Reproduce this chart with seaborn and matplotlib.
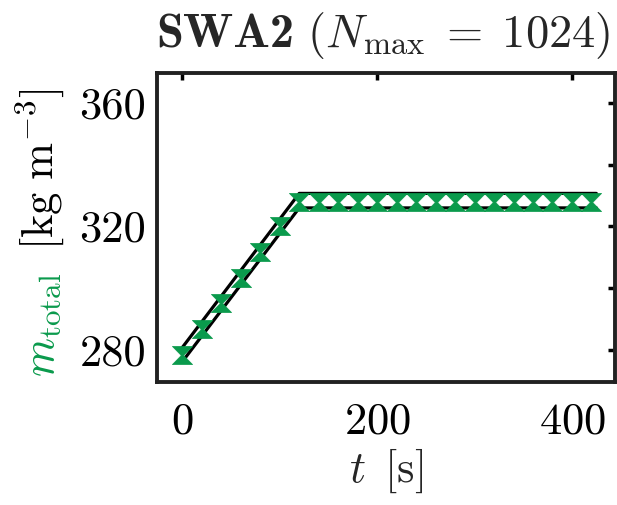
import numpy as np
import pandas as pd
import seaborn as sns
import matplotlib
matplotlib.use("Agg")
import matplotlib.pyplot as plt
from matplotlib.path import Path

# sampled total mass (markers)
t_markers = [0, 20, 40, 60, 80, 100, 120, 140, 160, 180, 200, 220, 240,
             260, 280, 300, 320, 340, 360, 380, 400, 420]
m_markers = [278.5, 286.8, 295.2, 303.4, 311.7, 320.0, 327.9, 327.9, 327.9,
             327.9, 327.9, 327.9, 327.9, 327.9, 327.9, 327.9, 327.9, 327.9,
             327.9, 327.9, 327.9, 327.9]

# upper / lower reference curves (black)
t_bound = [0, 120, 425]
m_upper = [280.8, 330.7, 330.7]
m_lower = [276.2, 326.0, 326.0]

green = "#0A9A4C"

sns.set_theme(style="white")
plt.rcParams["font.family"] = "serif"
plt.rcParams["font.serif"] = ["cmr10", "DejaVu Serif"]
plt.rcParams["mathtext.fontset"] = "cm"
plt.rcParams["axes.formatter.use_mathtext"] = True

fig = plt.figure(figsize=(6.17, 5.05), dpi=100)
ax = fig.add_axes([0.2545, 0.2436, 0.742, 0.6118])

bounds = pd.DataFrame({
    "t": t_bound * 2,
    "m": m_upper + m_lower,
    "curve": ["upper"] * 3 + ["lower"] * 3,
})
sns.lineplot(data=bounds, x="t", y="m", units="curve", estimator=None,
             sort=False, color="black", linewidth=2.3, ax=ax, zorder=2)

# hourglass marker
hourglass = Path([(-1, 0.9), (1, 0.9), (0.12, 0), (1, -0.9), (-1, -0.9), (-0.12, 0), (-1, 0.9)],
                 [Path.MOVETO] + [Path.LINETO] * 5 + [Path.CLOSEPOLY])
markers = pd.DataFrame({"t": t_markers, "m": m_markers})
sns.scatterplot(data=markers, x="t", y="m", marker=hourglass, s=210,
                color=green, edgecolor=green, linewidth=0.5, ax=ax, zorder=3)

ax.set_xlim(-26, 444)
ax.set_ylim(269.6, 369.7)
ax.set_xticks([0, 200, 400])
ax.set_yticks([280, 300, 320, 340, 360])
ax.set_yticklabels(["280", "", "320", "", "360"])
ax.tick_params(direction="in", length=5, width=2.5, top=True, right=True,
               labelsize=32, colors="black")
ax.tick_params(axis="x", pad=15)
ax.tick_params(axis="y", pad=8)
for sp in ax.spines.values():
    sp.set_linewidth(2.8)
    sp.set_color("#222222")

ax.set_xlabel(r"$t\ \, [\mathrm{s}]$", fontsize=32, labelpad=3)
ax.set_ylabel("")

# title: bold part in cmb10, rest in mathtext
fig.canvas.draw()
title_y = 1 - 47 / 505
ta = fig.text(0, title_y, "SWA2", family="cmb10", fontsize=35, va="baseline")
tb = fig.text(0, title_y, r"$\ (N_{\max} \;=\; 1024)$", fontsize=33.5, va="baseline")
fig.canvas.draw()
inv = fig.transFigure.inverted()
wa = ta.get_window_extent().transformed(inv).width
x0 = 156 / 617
ta.set_x(x0)
tb.set_x(x0 + wa)

# two-coloured y label
t1 = fig.text(0.087, 0.2535, r"$m_{\rm total}$", color=green, fontsize=32,
              rotation=90, rotation_mode="anchor", ha="left", va="baseline")
fig.canvas.draw()
bb = t1.get_window_extent().transformed(inv)
fig.text(0.087, bb.y1 + 0.045, r"$[\mathrm{kg\ m}^{-3}]$", color="black",
         fontsize=32, rotation=90, rotation_mode="anchor", ha="left", va="baseline")

fig.savefig("out.png", dpi=100)
